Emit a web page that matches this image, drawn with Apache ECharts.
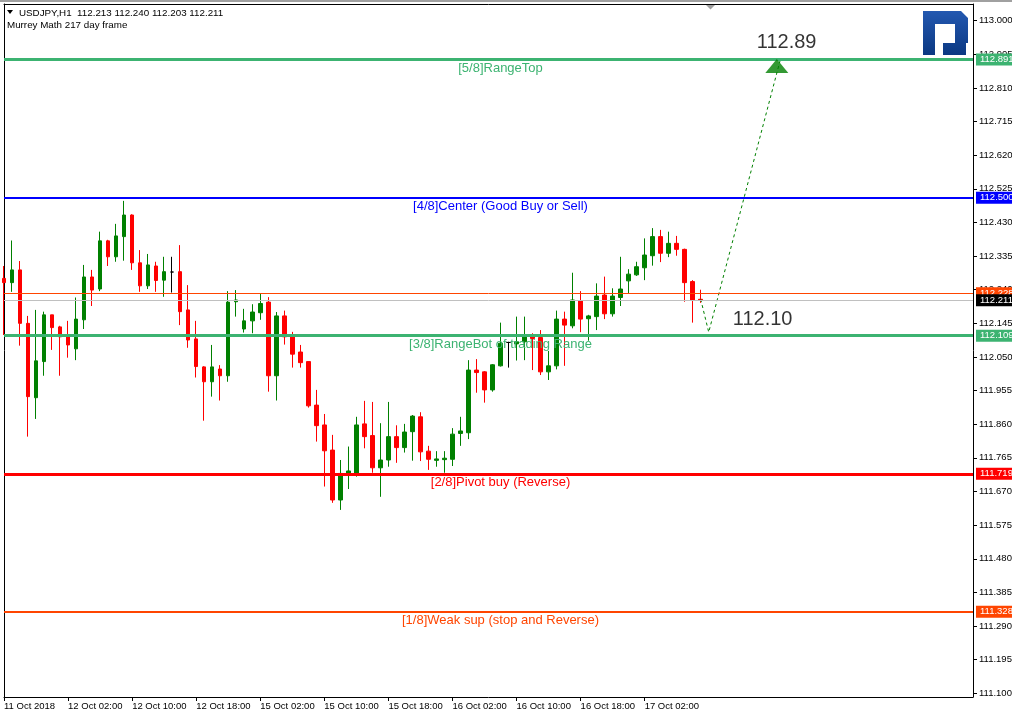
<!DOCTYPE html>
<html><head><meta charset="utf-8">
<script src="https://cdn.jsdelivr.net/npm/echarts@6/dist/echarts.min.js"></script>
<style>html,body{margin:0;padding:0;background:#fff;overflow:hidden}#c{width:1012px;height:715px;}</style>
</head><body><div id="c"></div>
<script>
// ---------- data ----------
const tickLabels = ['11 Oct 2018','12 Oct 02:00','12 Oct 10:00','12 Oct 18:00','15 Oct 02:00','15 Oct 10:00','15 Oct 18:00','16 Oct 02:00','16 Oct 10:00','16 Oct 18:00','17 Oct 02:00'];
const opens = [112.272,112.260,112.296,112.145,111.935,112.037,112.169,112.135,112.110,112.073,
112.155,112.276,112.242,112.378,112.333,112.390,112.451,112.316,112.251,112.307,
112.267,112.290,112.291,112.183,112.101,112.022,111.980,112.016,111.997,112.206,
112.129,112.152,112.175,112.205,111.997,112.166,112.110,112.064,112.037,111.914,
111.858,111.787,111.646,111.721,111.721,111.861,111.828,111.737,111.759,111.825,
111.794,111.839,111.881,111.784,111.758,111.760,111.761,111.834,111.836,112.013,
112.008,111.957,112.025,112.091,112.087,112.093,112.107,112.105,112.008,112.025,
112.157,112.138,112.208,112.158,112.164,112.225,112.172,112.218,112.265,112.282,
112.302,112.336,112.390,112.343,112.371,112.354,112.263,112.213];
const closes = [112.260,112.296,112.145,111.938,112.039,112.169,112.133,112.107,112.084,112.157,
112.276,112.239,112.378,112.333,112.392,112.451,112.316,112.251,112.310,112.266,
112.291,112.290,112.178,112.098,112.023,111.980,112.022,111.997,112.205,112.211,
112.152,112.177,112.201,111.997,112.166,112.107,112.058,112.034,111.912,111.856,
111.785,111.646,111.721,111.728,111.858,111.825,111.737,111.759,111.825,111.794,
111.838,111.883,111.782,111.761,111.762,111.764,111.832,111.841,112.013,112.006,
111.957,112.028,112.089,112.091,112.093,112.107,112.102,112.008,112.025,112.157,
112.140,112.211,112.157,112.166,112.222,112.172,112.222,112.242,112.284,112.305,
112.338,112.390,112.343,112.371,112.354,112.260,112.211,112.211];
const highs = [112.307,112.379,112.321,112.166,112.183,112.178,112.169,112.138,112.152,112.218,
112.310,112.296,112.404,112.381,112.426,112.491,112.453,112.352,112.341,112.319,
112.333,112.333,112.366,112.253,112.152,112.024,112.084,112.027,112.236,112.239,
112.186,112.199,112.228,112.219,112.177,112.181,112.121,112.084,112.037,111.957,
111.889,111.830,111.759,111.797,111.881,111.926,111.923,111.863,111.923,111.857,
111.861,111.886,111.894,111.799,111.784,111.784,111.849,111.881,112.041,112.044,
112.010,112.030,112.147,112.093,112.164,112.164,112.117,112.126,112.067,112.181,
112.178,112.288,112.236,112.169,112.258,112.277,112.244,112.333,112.298,112.319,
112.385,112.414,112.409,112.404,112.392,112.356,112.267,112.240];
const lows = [112.112,112.234,112.082,111.825,111.875,111.997,112.070,111.997,112.048,112.041,
112.129,112.194,112.236,112.307,112.319,112.322,112.296,112.234,112.242,112.234,
112.220,112.232,112.140,112.076,111.992,111.870,111.938,111.927,111.980,112.164,
112.119,112.117,112.155,111.952,111.927,112.085,112.020,112.020,111.907,111.811,
111.684,111.638,111.618,111.677,111.712,111.792,111.723,111.655,111.740,111.751,
111.780,111.757,111.756,111.731,111.740,111.723,111.742,111.799,111.818,111.949,
111.921,111.952,112.023,112.020,112.040,112.041,112.013,111.999,111.985,112.015,
112.025,112.131,112.120,112.096,112.126,112.157,112.164,112.194,112.230,112.279,
112.267,112.308,112.318,112.332,112.336,112.206,112.147,112.203];
const yTicks = [111.100,111.195,111.290,111.385,111.480,111.575,111.670,111.765,111.860,111.955,112.050,
112.145,112.240,112.335,112.430,112.525,112.620,112.715,112.810,112.905,113.000];
const levelValues = [112.891,112.500,112.109,111.719,111.328];
const levelNames = ['[5/8]RangeTop','[4/8]Center (Good Buy or Sell)','[3/8]RangeBot of trading Range','[2/8]Pivot buy (Reverse)','[1/8]Weak sup (stop and Reverse)'];
const levelColors = ['#3cb371','#0000ff','#3cb371','#ff0000','#ff4500'];
const levelWidths = [3,2,3,3,2];
const askPrice = 112.228;
const bidPrice = 112.211;
const forecastX = [87,88,97];
const forecastY = [112.213,112.120,112.895];
const targets = [112.89,112.10];
const targetX = [94,91];
const symbolName = 'USDJPY,H1';
const indicatorName = 'Murrey Math 217 day frame';

// ---------- build ----------
const N_SLOTS = 122;
const cats = [];
for (let i = 0; i < N_SLOTS; i++) cats.push(String(i));
const isTick = (i) => i % 8 === 0 && (i / 8) < tickLabels.length;
const candles = opens.map((o, i) => {
  const item = { value: [o, closes[i], lows[i], highs[i]] };
  if (o === closes[i]) item.itemStyle = { color: '#000', color0: '#000', borderColor: '#000', borderColor0: '#000' };
  return item;
});
const FONT = '"Liberation Sans", Arial, sans-serif';
const YMIN = 111.0895, YMAX = 113.0471;

const mlData = [];
levelValues.forEach((v, i) => {
  mlData.push({ yAxis: v, lineStyle: { color: levelColors[i], width: levelWidths[i], type: 'solid' },
    label: { show: true, position: 'insideMiddleBottom', distance: 2, padding: [0, 0, 0, 24],
      formatter: () => levelNames[i], color: levelColors[i], fontSize: 13, fontFamily: FONT } });
  mlData.push({ yAxis: v, lineStyle: { color: levelColors[i], width: levelWidths[i], type: 'solid' },
    label: { show: true, position: 'end', distance: 3, padding: [1, 4, 0, 4], lineHeight: 11,
      formatter: () => v.toFixed(3), color: '#fff', backgroundColor: levelColors[i], fontSize: 9.5, fontFamily: FONT } });
});
mlData.push({ yAxis: askPrice, lineStyle: { color: '#ff4500', width: 1, type: 'solid' },
  label: { show: true, position: 'end', distance: 3, padding: [1, 4, 0, 4], lineHeight: 11,
    formatter: () => askPrice.toFixed(3), color: '#fff', backgroundColor: '#ff4500', fontSize: 9.5, fontFamily: FONT } });
mlData.push({ yAxis: bidPrice, lineStyle: { color: '#c0c0c0', width: 1, type: 'solid' },
  label: { show: true, position: 'end', distance: 3, padding: [1, 4, 0, 4], lineHeight: 11,
    formatter: () => bidPrice.toFixed(3), color: '#fff', backgroundColor: '#000', fontSize: 9.5, fontFamily: FONT } });

const last = opens.length - 1;
const header = symbolName + '  ' + opens[last].toFixed(3) + ' ' + highs[last].toFixed(3) + ' ' + lows[last].toFixed(3) + ' ' + closes[last].toFixed(3);
const logoFill = { type: 'linear', x: 0, y: 0, x2: 0, y2: 1, colorStops: [{ offset: 0, color: '#2358b0' }, { offset: 1, color: '#0b3882' }] };

const chart = echarts.init(document.getElementById('c'), null, { renderer: 'canvas' });
chart.setOption({
  animation: false,
  backgroundColor: '#ffffff',
  textStyle: { fontFamily: FONT },
  grid: { left: 4, right: 39, top: 4, bottom: 18, containLabel: false, outerBoundsMode: 'none' },
  xAxis: [{
    type: 'category', data: cats, boundaryGap: false, position: 'bottom',
    axisLine: { show: true, onZero: false, lineStyle: { color: '#000', width: 1 } },
    axisTick: { show: true, interval: (i) => isTick(i), length: 4, lineStyle: { color: '#000' } },
    axisLabel: { show: true, interval: (i) => isTick(i), formatter: (v, i) => isTick(i) ? tickLabels[i / 8] : '',
      align: 'left', margin: 4, color: '#000', fontSize: 9.5, fontFamily: FONT, hideOverlap: false },
    splitLine: { show: false }
  }, {
    type: 'category', data: cats, boundaryGap: false, position: 'top',
    axisLine: { show: true, onZero: false, lineStyle: { color: '#000', width: 1 } },
    axisTick: { show: false }, axisLabel: { show: false }, splitLine: { show: false }
  }],
  yAxis: [{
    type: 'value', position: 'right', min: YMIN, max: YMAX, scale: true,
    axisLine: { show: true, onZero: false, lineStyle: { color: '#000', width: 1 } },
    axisTick: { show: true, length: 4, customValues: yTicks, lineStyle: { color: '#000' } },
    axisLabel: { show: true, customValues: yTicks, formatter: (v) => Number(v).toFixed(3), margin: 6,
      color: '#000', fontSize: 9.5, fontFamily: FONT, hideOverlap: false },
    splitLine: { show: false }
  }, {
    type: 'value', position: 'left', min: YMIN, max: YMAX, scale: true,
    axisLine: { show: true, onZero: false, lineStyle: { color: '#000', width: 1 } },
    axisTick: { show: false }, axisLabel: { show: false }, splitLine: { show: false }
  }],
  series: [{
    type: 'candlestick', name: 'USDJPY', xAxisIndex: 0, yAxisIndex: 0, data: candles,
    barWidth: 4, clip: true, z: 2,
    itemStyle: { color: '#008000', color0: '#ff0000', borderColor: '#008000', borderColor0: '#ff0000', borderWidth: 1 }
  }, {
    type: 'line', name: 'levels', data: [], z: 3, silent: true,
    markLine: { silent: true, symbol: ['none', 'none'], animation: false, data: mlData }
  }, {
    type: 'line', name: 'forecast', z: 4, silent: true, symbol: 'none',
    data: forecastX.map((x, i) => [x, forecastY[i]]),
    lineStyle: { color: '#008000', width: 1, type: [3, 3] }
  }, {
    type: 'scatter', name: 'arrow', z: 5, silent: true,
    data: [[forecastX[2], 112.872]], symbol: 'triangle', symbolSize: [23, 14], symbolOffset: [-4, 0],
    itemStyle: { color: '#008000' }
  }, {
    type: 'scatter', name: 'targets', z: 6, silent: true, symbolSize: 0,
    data: targets.map((t, i) => ({ value: [targetX[i], t], label: { offset: [0, i === 0 ? -17.5 : -20] } })),
    label: { show: true, position: 'right', distance: 0, formatter: (p) => targets[p.dataIndex].toFixed(2),
      color: '#000', fontSize: 20, fontFamily: FONT, textBorderWidth: 0 }
  }],
  graphic: [
    { type: 'rect', left: 0, top: 0, shape: { width: 1012, height: 2 }, style: { fill: '#a0a0a0' }, silent: true },
    { type: 'polygon', shape: { points: [[706, 5], [715, 5], [710.5, 9.5]] }, style: { fill: '#a0a0a0' }, silent: true },
    { type: 'polygon', shape: { points: [[7, 10], [13, 10], [10, 14]] }, style: { fill: '#000' }, silent: true },
    { type: 'text', left: 19, top: 8, style: { text: header, font: '9.8px ' + FONT, fill: '#000' }, silent: true },
    { type: 'text', left: 7, top: 20, style: { text: indicatorName, font: '9.8px ' + FONT, fill: '#000' }, silent: true },
    { type: 'rect', shape: { x: 923, y: 11, width: 12, height: 44 }, style: { fill: logoFill }, silent: true },
    { type: 'polygon', shape: { points: [[935, 11], [961, 11], [968, 18], [968, 43], [966, 43], [966, 55], [943, 55], [943, 43], [955, 43], [955, 24], [935, 24]] },
      style: { fill: logoFill }, silent: true }
  ]
});
</script></body></html>
